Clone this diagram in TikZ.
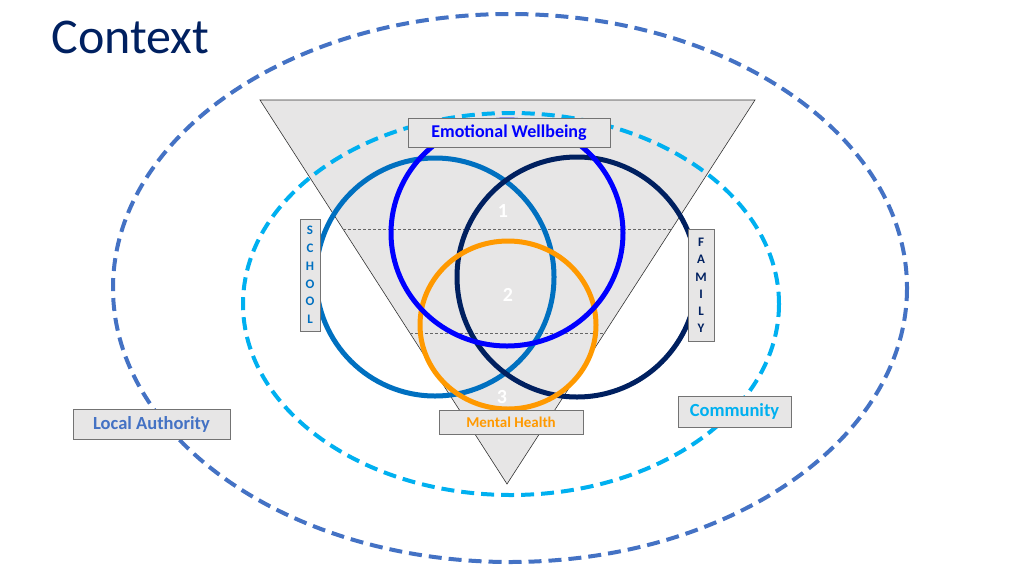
\documentclass[tikz,border=0pt]{standalone}
\usepackage{fontspec}
\setmainfont{Carlito}
\definecolor{lagray}{HTML}{4472C4}
\definecolor{commblue}{HTML}{00B0F0}
\definecolor{ewblue}{HTML}{0000FF}
\definecolor{schblue}{HTML}{0070C0}
\definecolor{famnavy}{HTML}{002060}
\definecolor{mhorange}{HTML}{FF9900}
\definecolor{panel}{HTML}{E7E6E6}
\tikzset{
  labelbox/.style={draw=black!55, fill=panel, line width=0.8pt, inner sep=0pt},
  ring/.style={line width=5pt},
  zone/.style={line width=4pt, dash pattern=on 13pt off 7pt},
  tier/.style={black!60, line width=0.6pt, densely dashed},
  tiernum/.style={text=white, font=\fontsize{20}{20}\selectfont\bfseries}
}

\begin{document}
\begin{tikzpicture}[x=1pt,y=-1pt]
\useasboundingbox (0,0) rectangle (1024,576);
% outer zone
\draw[zone, lagray] (510,288) ellipse [x radius=397, y radius=274];
% funnel
\coordinate (tl) at (260,100);
\coordinate (tr) at (755,100);
\coordinate (tip) at (507,484);
\filldraw[fill=panel, draw=black!80, line width=0.6pt] (tl) -- (tr) -- (tip) -- cycle;
\draw[tier] (343,229) -- (672,229);
\draw[tier] (410,333) -- (605,333);
% inner zone
\draw[zone, commblue] (511,304) ellipse [x radius=268, y radius=191];
% rings
\draw[ring, schblue] (435,277) circle (119);
\draw[ring, famnavy] (577,277) circle (120);
\draw[ring, mhorange] (508,325) ellipse [x radius=88, y radius=84];
\draw[ring, ewblue] (507,233) ellipse [x radius=116, y radius=113];
% tiers
\node[tiernum] (one) at (503,211) {1};
\node[tiernum] (two) at (508,295) {2};
\node[tiernum] (three) at (502,397) {3};
% labels
\node[anchor=base west, text=famnavy, font=\fontsize{50}{50}\selectfont] (title) at (48,53) {Context};
\node[labelbox, minimum width=202pt, minimum height=29pt, text=ewblue, font=\fontsize{18}{18}\selectfont\bfseries] (ew) at (509,132.5) {Emotional Wellbeing};
\node[labelbox, minimum width=20pt, minimum height=112pt, align=center, text=schblue, font=\fontsize{13}{17.8}\selectfont\bfseries] (school) at (310,275) {S\\C\\H\\O\\O\\L};
\node[labelbox, minimum width=26pt, minimum height=112pt, align=center, text=famnavy, font=\fontsize{13}{17.2}\selectfont\bfseries] (family) at (701,285.5) {F\\A\\M\\I\\L\\Y};
\node[labelbox, minimum width=144pt, minimum height=24pt, text=mhorange, font=\fontsize{15}{15}\selectfont\bfseries] (mh) at (511,422) {Mental Health};
\node[labelbox, minimum width=113pt, minimum height=31pt, text=commblue, font=\fontsize{18.5}{18.5}\selectfont\bfseries] (comm) at (734.5,411.5) {Community};
\node[labelbox, minimum width=157pt, minimum height=30pt, text=lagray, font=\fontsize{18.5}{18.5}\selectfont\bfseries] (la) at (151.5,424) {Local Authority};
\end{tikzpicture}
\end{document}
